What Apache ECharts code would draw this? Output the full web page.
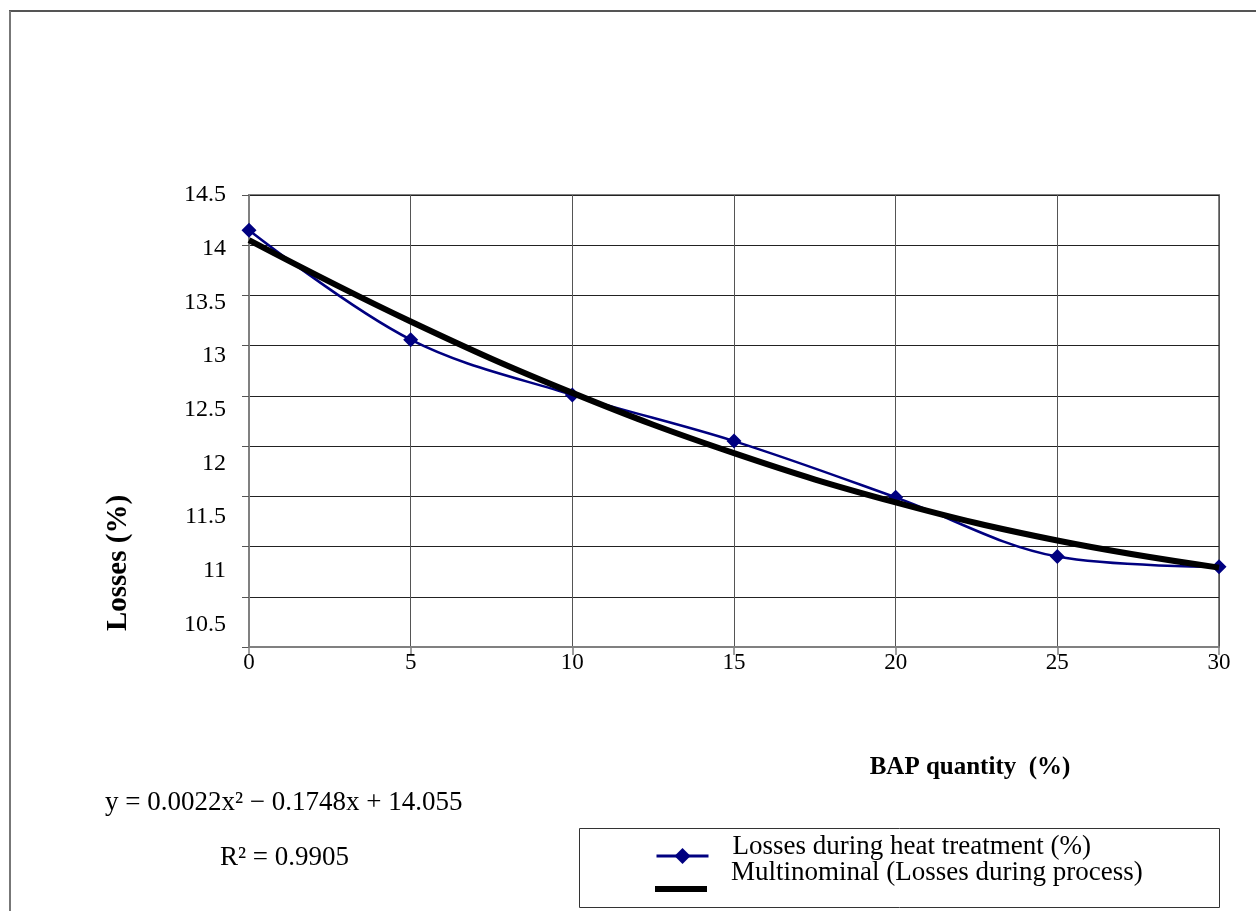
<!DOCTYPE html>
<html>
<head>
<meta charset="utf-8">
<script src="https://cdn.jsdelivr.net/npm/echarts@6/dist/echarts.min.js"></script>
<style>
html,body{margin:0;padding:0;background:#fff;}
#chart{width:1256px;height:911px;}
</style>
</head>
<body>
<div id="chart"></div>
<script>
// ---- data ----
var xValues = [0, 5, 10, 15, 20, 25, 30];
var lossesHeat = [14.15, 13.06, 12.51, 12.05, 11.49, 10.9, 10.8];
var trendValues = [14.05, 13.24, 12.53, 11.93, 11.44, 11.06, 10.79];
var yTickLabels = [14.5, 14, 13.5, 13, 12.5, 12, 11.5, 11, 10.5];
var seriesNames = ['Losses during heat treatment (%)', 'Multinominal (Losses during process)'];
var xAxisTitle = 'BAP quantity  (%)';
var yAxisTitle = 'Losses (%)';
var equationText = 'y = 0.0022x\u00b2 \u2212 0.1748x + 14.055';
var r2Text = 'R\u00b2 = 0.9905';

var FONT = '"Liberation Serif", "Times New Roman", serif';

function pairs(xs, ys) { return xs.map(function (x, i) { return [x, ys[i]]; }); }

var chart = echarts.init(document.getElementById('chart'), null, {renderer: 'canvas'});
chart.setOption({
  backgroundColor: '#fff',
  animation: false,
  textStyle: {fontFamily: FONT},
  grid: {left: 249, right: 37, top: 195, bottom: 264, show: true, borderColor: '#808080', borderWidth: 2, backgroundColor: 'transparent'},
  xAxis: {
    type: 'value', min: 0, max: 30, interval: 5,
    axisLine: {show: true, onZero: false, lineStyle: {color: '#808080', width: 2}},
    axisTick: {show: true, inside: false, length: 8, lineStyle: {color: '#808080', width: 1.5}},
    axisLabel: {margin: 4, color: '#000', fontFamily: FONT, fontSize: 23},
    splitLine: {show: true, lineStyle: {color: '#555', width: 1}}
  },
  yAxis: [{
    type: 'value', min: 10, max: 14.5, interval: 0.5,
    axisLine: {show: true, onZero: false, lineStyle: {color: '#808080', width: 2}},
    axisTick: {show: true, inside: false, length: 7, lineStyle: {color: '#555', width: 1}},
    axisLabel: {show: false},
    splitLine: {show: true, lineStyle: {color: '#222', width: 1}}
  }, {
    type: 'value', position: 'left', min: 10.29, max: 14.5,
    axisLine: {show: false}, axisTick: {show: false}, splitLine: {show: false},
    axisLabel: {show: true, customValues: yTickLabels, margin: 23, color: '#000', fontFamily: FONT, fontSize: 24,
      formatter: function (v) { return String(v); }}
  }],
  legend: [{
    orient: 'vertical', left: 655, top: 833, padding: 0, itemWidth: 52, itemHeight: 20,
    formatter: '{name}\n',
    textStyle: {fontFamily: FONT, fontSize: 27, lineHeight: 19, color: '#000', padding: [0, 0, 0, 19]},
    lineStyle: {width: 3},
    data: [{name: seriesNames[0]}]
  }, {
    orient: 'vertical', left: 655, top: 857, padding: 0, itemWidth: 52, itemHeight: 20,
    formatter: '{name}\n',
    textStyle: {fontFamily: FONT, fontSize: 27, lineHeight: 32, color: '#000', padding: [0, 0, 0, 19]},
    data: [{name: seriesNames[1], icon: 'path://M0,0 H52 V6 H0 Z', itemStyle: {color: '#000'}}]
  }],
  series: [{
    name: seriesNames[0], type: 'line', smooth: 0.35,
    data: pairs(xValues, lossesHeat),
    symbol: 'diamond', symbolSize: 15,
    lineStyle: {color: '#000080', width: 2.5},
    itemStyle: {color: '#000080'},
    z: 3
  }, {
    name: seriesNames[1], type: 'line', smooth: 0.4,
    data: pairs(xValues, trendValues),
    symbol: 'none', showSymbol: false,
    lineStyle: {color: '#000', width: 6},
    itemStyle: {color: '#000'},
    z: 4
  }],
  graphic: [
    {type: 'line', shape: {x1: 9, y1: 11, x2: 1256, y2: 11}, style: {stroke: '#555', lineWidth: 2}},
    {type: 'line', shape: {x1: 10, y1: 11, x2: 10, y2: 911}, style: {stroke: '#777', lineWidth: 2}},
    {type: 'text', x: 970, y: 768, style: {text: xAxisTitle, font: 'bold 25px ' + FONT, fill: '#000', align: 'center', verticalAlign: 'middle'}},
    {type: 'text', x: 119, y: 563, rotation: Math.PI / 2, style: {text: yAxisTitle, font: 'bold 29px ' + FONT, fill: '#000', align: 'center', verticalAlign: 'middle'}},
    {type: 'text', x: 105, y: 803, style: {text: equationText, font: '27px ' + FONT, fill: '#000', verticalAlign: 'middle'}},
    {type: 'text', x: 220, y: 858, style: {text: r2Text, font: '27px ' + FONT, fill: '#000', verticalAlign: 'middle'}},
    {type: 'rect', shape: {x: 579.5, y: 828.5, width: 640, height: 79}, style: {fill: 'none', stroke: '#333', lineWidth: 1}}
  ]
});
</script>
</body>
</html>
